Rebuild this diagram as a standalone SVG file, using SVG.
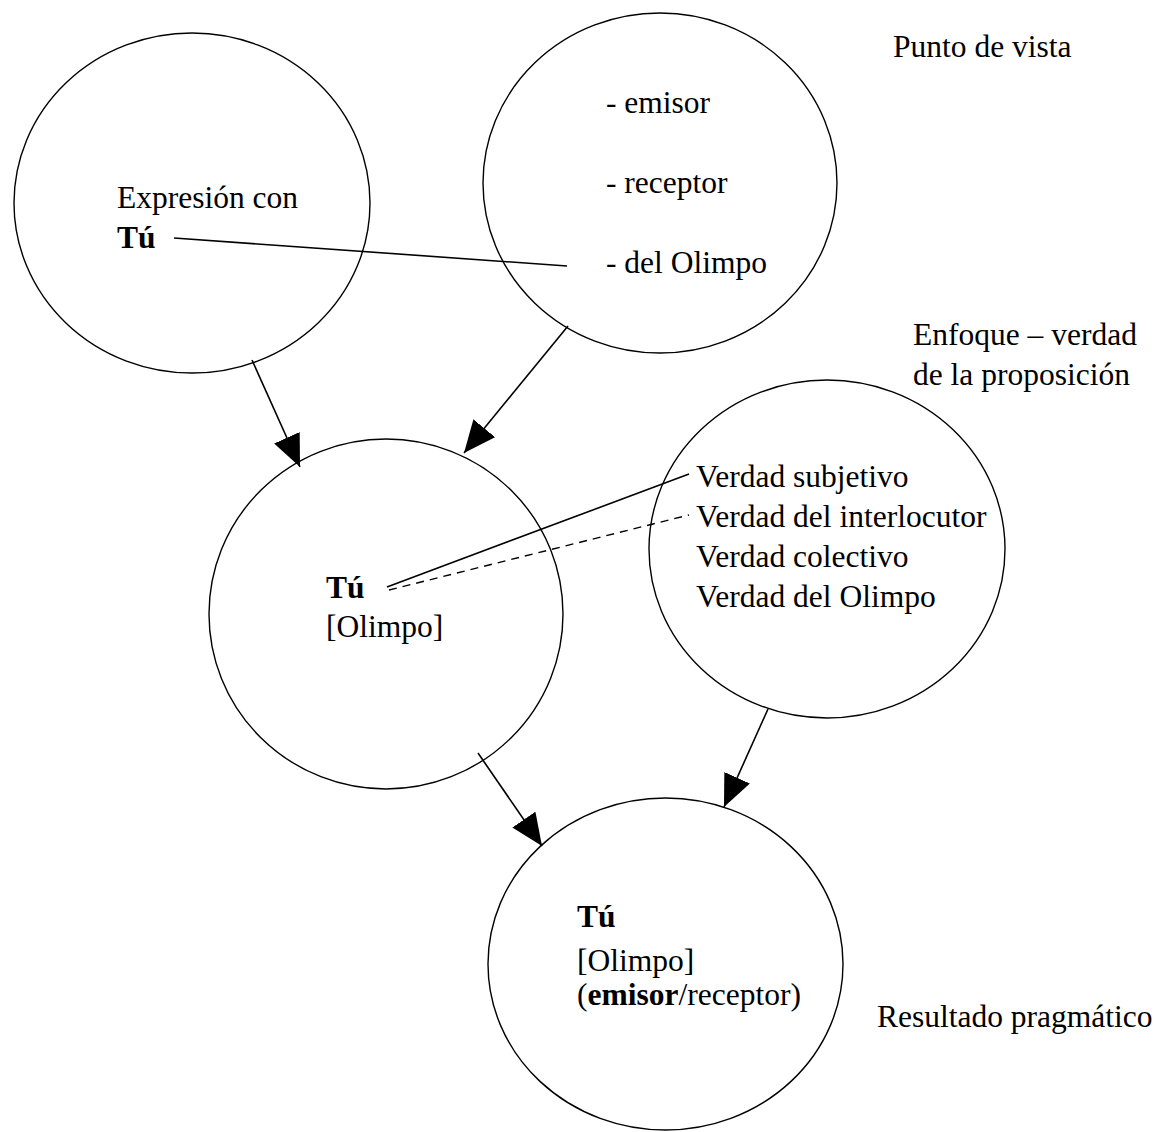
<svg xmlns="http://www.w3.org/2000/svg" width="1159" height="1132" viewBox="0 0 1159 1132">
<style>
  .node ellipse { fill: none; stroke: #000; stroke-width: 1.4; }
  text { font-family: "Liberation Serif", "Times New Roman", serif; font-size: 31.5px; fill: #000; }
  .b { font-weight: bold; }
  .conn line { stroke: #000; stroke-width: 1.6; fill: none; }
  .conn .arrow { marker-end: url(#ah); }
  .conn .dash { stroke-dasharray: 8 6; stroke-width: 1.4; }
</style>
<defs>
  <marker id="ah" markerUnits="userSpaceOnUse" markerWidth="34" markerHeight="30" refX="32" refY="14" orient="auto">
    <path d="M0,0 L32,14 L0,28 z" fill="#000"/>
  </marker>
</defs>
<rect width="1159" height="1132" fill="#fff"/>

<g id="node-expresion" class="node">
  <ellipse cx="192" cy="203" rx="178" ry="170"/>
  <text x="117" y="208">Expresión con</text>
  <text x="117" y="248" class="b">Tú</text>
</g>

<g id="node-punto" class="node">
  <ellipse cx="660" cy="183" rx="177" ry="170"/>
  <text x="606" y="113">- emisor</text>
  <text x="606" y="193">- receptor</text>
  <text x="606" y="273">- del Olimpo</text>
</g>

<g id="node-tu-olimpo" class="node">
  <ellipse cx="386" cy="614" rx="177" ry="175"/>
  <text x="326" y="598" class="b">Tú</text>
  <text x="326" y="637">[Olimpo]</text>
</g>

<g id="node-verdad" class="node">
  <ellipse cx="827" cy="549" rx="178" ry="169"/>
  <text x="696" y="487">Verdad subjetivo</text>
  <text x="696" y="527">Verdad del interlocutor</text>
  <text x="696" y="567">Verdad colectivo</text>
  <text x="696" y="607">Verdad del Olimpo</text>
</g>

<g id="node-resultado" class="node">
  <ellipse cx="665.5" cy="964" rx="177.5" ry="166"/>
  <text x="577" y="927" class="b">Tú</text>
  <text x="577" y="971">[Olimpo]</text>
  <text x="577" y="1005">(<tspan class="b">emisor</tspan>/receptor)</text>
</g>

<g id="label-punto"><text x="893" y="57">Punto de vista</text></g>
<g id="label-enfoque">
  <text x="913" y="345">Enfoque – verdad</text>
  <text x="913" y="385">de la proposición</text>
</g>
<g id="label-resultado"><text x="877" y="1027">Resultado pragmático</text></g>

<g id="connectors" class="conn">
  <line x1="174" y1="238" x2="567" y2="266"/>
  <line x1="387" y1="587" x2="689" y2="474"/>
  <line class="dash" x1="389" y1="590" x2="689" y2="515"/>
  <line class="arrow" x1="252" y1="360" x2="300" y2="467"/>
  <line class="arrow" x1="568" y1="326" x2="464" y2="453"/>
  <line class="arrow" x1="478" y1="753" x2="542" y2="846"/>
  <line class="arrow" x1="768" y1="709" x2="724" y2="807"/>
</g>
</svg>
